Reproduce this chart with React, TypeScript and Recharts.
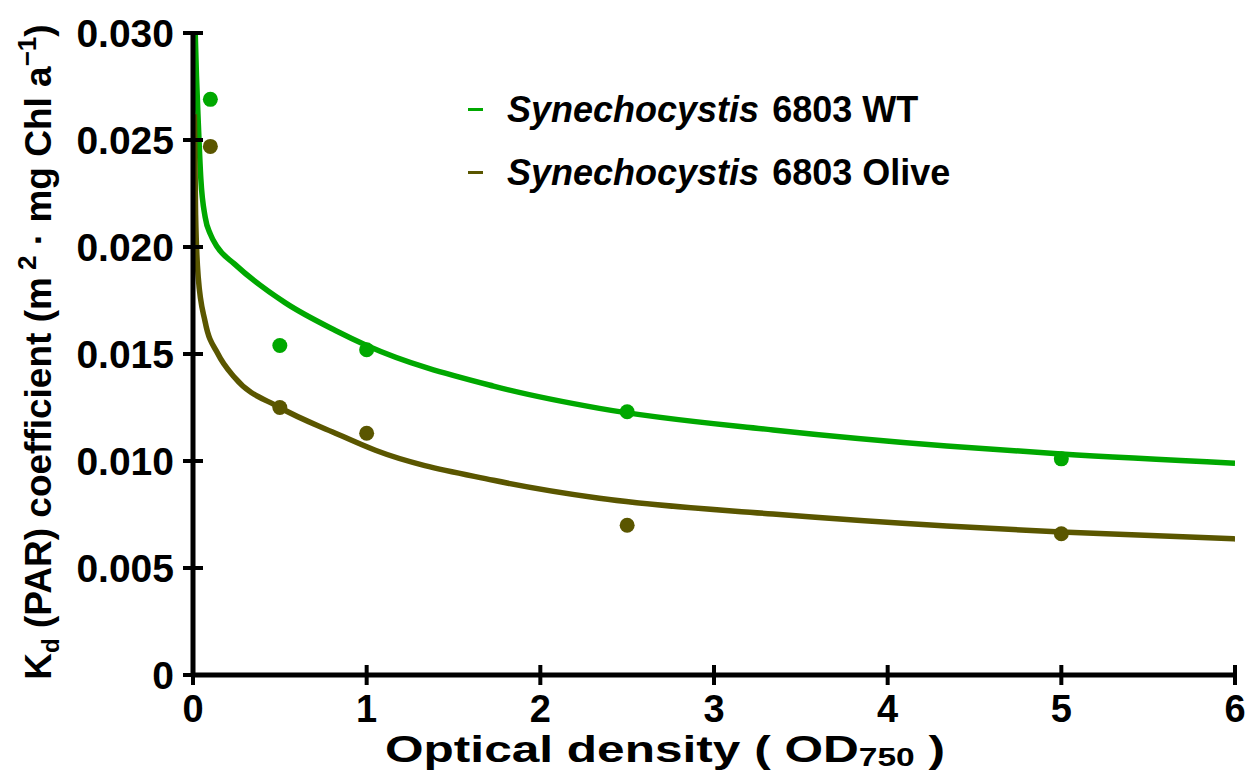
import {
  ComposedChart, Line, Scatter, XAxis, YAxis, Legend, Label,
} from 'recharts';

const FONT = '"Liberation Sans", Arial, Helvetica, sans-serif';
const GREEN = '#00A800';
const OLIVE = '#5A5600';

const xTicks = [0, 1, 2, 3, 4, 5, 6];
const yTicks = [0, 0.005, 0.01, 0.015, 0.02, 0.025, 0.03];

// measured points
const wtPoints = [
  { od: 0.1, kd: 0.0269 },
  { od: 0.5, kd: 0.0154 },
  { od: 1, kd: 0.0152 },
  { od: 2.5, kd: 0.0123 },
  { od: 5, kd: 0.0101 },
];
const olivePoints = [
  { od: 0.1, kd: 0.0247 },
  { od: 0.5, kd: 0.0125 },
  { od: 1, kd: 0.0113 },
  { od: 2.5, kd: 0.0070 },
  { od: 5, kd: 0.0066 },
];

// fitted curves
const wtCurve = [
  { od: 0.012, kd: 0.0302 },
  { od: 0.02, kd: 0.0280 },
  { od: 0.03, kd: 0.0259 },
  { od: 0.045, kd: 0.0232 },
  { od: 0.07, kd: 0.0214 },
  { od: 0.1, kd: 0.0206 },
  { od: 0.14, kd: 0.0200 },
  { od: 0.24, kd: 0.0192 },
  { od: 0.53, kd: 0.0174 },
  { od: 0.82, kd: 0.0161 },
  { od: 1.0, kd: 0.0154 },
  { od: 1.73, kd: 0.0135 },
  { od: 2.34, kd: 0.01246 },
  { od: 3.34, kd: 0.01145 },
  { od: 4.34, kd: 0.0107 },
  { od: 5.0, kd: 0.01033 },
  { od: 6.0, kd: 0.0099 },
];
const oliveCurve = [
  { od: 0.008, kd: 0.0262 },
  { od: 0.015, kd: 0.0215 },
  { od: 0.03, kd: 0.0186 },
  { od: 0.07, kd: 0.0165 },
  { od: 0.144, kd: 0.0150 },
  { od: 0.24, kd: 0.0139 },
  { od: 0.5, kd: 0.0125 },
  { od: 0.82, kd: 0.0113 },
  { od: 1.05, kd: 0.0105 },
  { od: 1.73, kd: 0.0091 },
  { od: 2.34, kd: 0.00826 },
  { od: 3.34, kd: 0.00752 },
  { od: 4.34, kd: 0.00696 },
  { od: 5.0, kd: 0.00668 },
  { od: 6.0, kd: 0.00636 },
];

const legendItems = [
  { name: '6803 WT', color: GREEN },
  { name: '6803 Olive', color: OLIVE },
];

const fmtY = (v: number) => (v === 0 ? '0' : v.toFixed(3));

const LeftTick = ({ x, y, payload }: any) => (
  <g>
    <line x1={x - 10} x2={x + 10} y1={y} y2={y} stroke="#000" strokeWidth={4} />
    <text x={x - 19} y={y} dy="0.36em" textAnchor="end" fontSize={39} fontWeight="bold" fontFamily={FONT} fill="#000">
      {fmtY(payload.value)}
    </text>
  </g>
);
const RightTick = ({ x, y }: any) => (
  <line x1={x - 10} x2={x + 10} y1={y} y2={y} stroke="#000" strokeWidth={4} />
);
const BottomTick = ({ x, y, payload }: any) => (
  <g>
    <line x1={x} x2={x} y1={y - 10} y2={y + 10} stroke="#000" strokeWidth={4} />
    <text x={x} y={y + 47} textAnchor="middle" fontSize={38} fontWeight="bold" fontFamily={FONT} fill="#000">
      {payload.value}
    </text>
  </g>
);
const TopTick = ({ x, y }: any) => (
  <line x1={x} x2={x} y1={y - 10} y2={y + 10} stroke="#000" strokeWidth={4} />
);

const YTitle = () => (
  <text
    x={51}
    y={352}
    transform="rotate(-90, 51, 352)"
    textAnchor="middle"
    fontSize={37}
    fontWeight="bold"
    fontFamily={FONT}
    fill="#000"
  >
    K<tspan fontSize={24} dy={8}>d</tspan>
    <tspan dy={-8}> (PAR) coefficient  (m</tspan>
    <tspan fontSize={26} dy={-15}> 2</tspan>
    <tspan dy={15}> · mg Chl a</tspan>
    <tspan fontSize={26} dy={-15}>−1</tspan>
    <tspan dy={15}>)</tspan>
  </text>
);

const XTitle = () => (
  <text
    x={385}
    y={762}
    textAnchor="start"
    fontSize={37}
    fontWeight="bold"
    fontFamily={FONT}
    fill="#000"
    textLength={560}
    lengthAdjust="spacingAndGlyphs"
  >
    Optical density ( OD<tspan fontSize={25} dy={4}>750</tspan>
    <tspan dy={-4}> )</tspan>
  </text>
);

const LegendBox = () => (
  <div style={{ fontFamily: FONT, fontSize: 36, fontWeight: 'bold', color: '#000' }}>
    {legendItems.map((d) => (
      <div key={d.name} style={{ display: 'flex', alignItems: 'center', height: 63 }}>
        <div style={{ width: 15, height: 3, background: d.color, marginRight: 24 }} />
        <span style={{ fontStyle: 'italic' }}>Synechocystis</span>
        <span style={{ whiteSpace: 'pre', marginLeft: 13 }}>{d.name}</span>
      </div>
    ))}
  </div>
);

export default function App() {
  return (
    <div style={{ width: 1248, height: 772, background: '#fff' }}>
      <style>{'body{margin:0}'}</style>
      <ComposedChart width={1248} height={772} margin={{ top: 33, right: 13, bottom: 0, left: 0 }}>
        <XAxis
          dataKey="od"
          type="number"
          domain={[0, 6]}
          ticks={xTicks}
          interval={0}
          height={97}
          tickSize={0}
          tickMargin={0}
          tickLine={false}
          axisLine={{ stroke: '#000', strokeWidth: 5 }}
          tick={<BottomTick />}
          allowDataOverflow
        >
          <Label content={<XTitle />} />
        </XAxis>
        <XAxis
          xAxisId="top"
          orientation="top"
          dataKey="od"
          type="number"
          domain={[0, 6]}
          ticks={xTicks}
          interval={0}
          height={0}
          tickSize={0}
          tickMargin={0}
          tickLine={false}
          axisLine={{ stroke: '#000', strokeWidth: 5 }}
          tick={<TopTick />}
        />
        <YAxis
          type="number"
          domain={[0, 0.03]}
          ticks={yTicks}
          interval={0}
          width={193}
          tickSize={0}
          tickMargin={0}
          tickLine={false}
          axisLine={{ stroke: '#000', strokeWidth: 5 }}
          tick={<LeftTick />}
          allowDataOverflow
        >
          <Label content={<YTitle />} />
        </YAxis>
        <YAxis
          yAxisId="right"
          orientation="right"
          type="number"
          domain={[0, 0.03]}
          ticks={yTicks}
          interval={0}
          width={0}
          tickSize={0}
          tickMargin={0}
          tickLine={false}
          axisLine={{ stroke: '#000', strokeWidth: 5 }}
          tick={<RightTick />}
        />
        <Legend
          layout="vertical"
          align="center"
          verticalAlign="middle"
          wrapperStyle={{ top: 78, left: 468, width: 540 }}
          content={<LegendBox />}
        />
        <Line data={wtCurve} dataKey="kd" type="monotone" stroke={GREEN} strokeWidth={5.5} dot={false} isAnimationActive={false} />
        <Line data={oliveCurve} dataKey="kd" type="monotone" stroke={OLIVE} strokeWidth={5.5} dot={false} isAnimationActive={false} />
        <Scatter
          data={wtPoints}
          dataKey="kd"
          fill={GREEN}
          isAnimationActive={false}
          shape={(p: any) => <circle cx={p.cx} cy={p.cy} r={7.5} fill={GREEN} />}
        />
        <Scatter
          data={olivePoints}
          dataKey="kd"
          fill={OLIVE}
          isAnimationActive={false}
          shape={(p: any) => <circle cx={p.cx} cy={p.cy} r={7.5} fill={OLIVE} />}
        />
      </ComposedChart>
    </div>
  );
}
